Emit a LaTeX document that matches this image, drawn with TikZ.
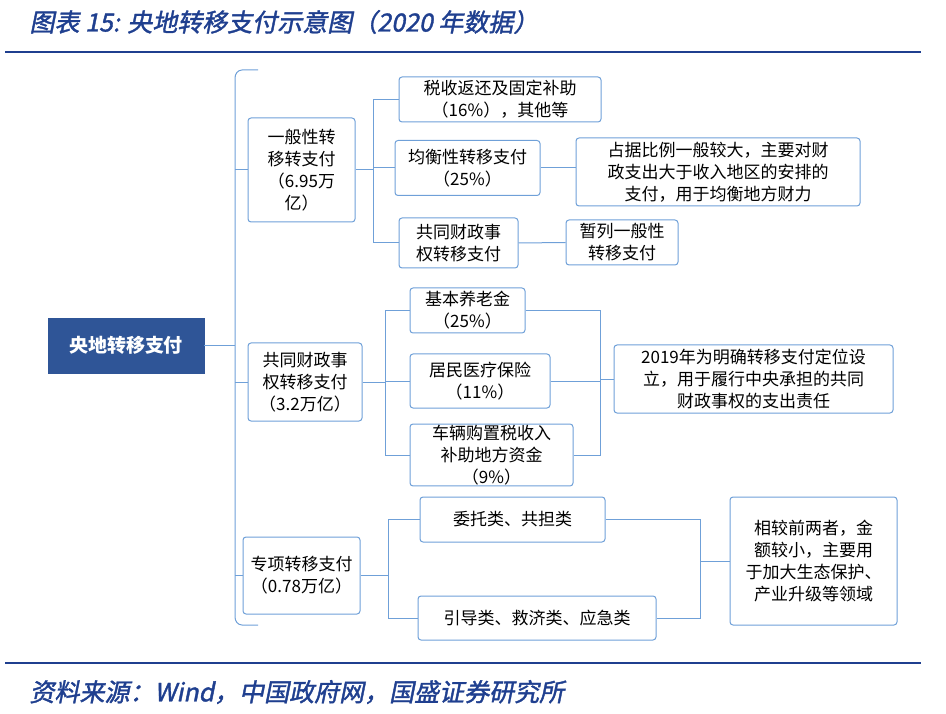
\documentclass[tikz,border=0pt]{standalone}
\usepackage{fontspec}
\setmainfont{Noto Sans CJK SC}
\newfontfamily\titlefont[FakeSlant=0.2,FakeBold=1.5]{Noto Sans CJK SC}
\usetikzlibrary{positioning}
\definecolor{gsblue}{HTML}{1F3F8F}
\definecolor{boxline}{HTML}{6FA0D8}
\definecolor{mainfill}{HTML}{2F5597}
\begin{document}
\begin{tikzpicture}[x=1pt,y=-1pt,
    box/.style={draw=boxline, line width=1pt, rounded corners=3pt, align=center,
      font=\fontsize{17}{22}\selectfont, inner sep=1pt},
    link/.style={draw=boxline, line width=1pt}]

    \useasboundingbox (0,0) rectangle (946,714);
    \node[anchor=west, text=gsblue, font=\titlefont\fontsize{25}{27}\selectfont] (title) at (26,22) {图表 15:  央地转移支付示意图（2020 年数据）};
    \draw[gsblue, line width=2pt] (5,52) -- (921,52);
    \draw[gsblue, line width=2pt] (5,663) -- (921,663);
    \node[anchor=west, text=gsblue, font=\titlefont\fontsize{25}{27}\selectfont] (src) at (26,692) {资料来源：Wind，中国政府网，国盛证券研究所};

    % main box and brace
    \node[draw=mainfill, fill=mainfill, text=white, font=\bfseries\fontsize{19}{22}\selectfont,
      minimum width=156, minimum height=55] (main) at (126,345.5) {央地转移支付};
    \draw[link] (main.east) -- (235,345.5);
    \draw[link] (258,70) -- (242,70) to[out=180,in=90] (235,78) -- (235,617) to[out=-90,in=180] (242,625) -- (258,625);

    % level 1
    \node[box, minimum width=107, minimum height=104] (gen) at (301.5,170) {一般性转\\移转支付\\（6.95万\\亿）};
    \node[box, minimum width=114, minimum height=78] (com) at (305,382) {共同财政事\\权转移支付\\（3.2万亿）};
    \node[box, minimum width=117, minimum height=77] (spe) at (301.5,575.5) {专项转移支付\\（0.78万亿）};
    \draw[link] (235,170) -- (gen.west);
    \draw[link] (235,382) -- (com.west);
    \draw[link] (235,575.5) -- (spe.west);

    % general transfers
    \node[box, minimum width=202, minimum height=45] (tax) at (500,99.5) {税收返还及固定补助\\（16\%），其他等};
    \node[box, minimum width=145, minimum height=55] (bal) at (467.5,168) {均衡性转移支付\\（25\%）};
    \node[box, minimum width=284, minimum height=68] (baltxt) at (718,172) {占据比例一般较大，主要对财\\政支出大于收入地区的安排的\\支付，用于均衡地方财力};
    \node[box, minimum width=119, minimum height=50] (cgen) at (458.5,243) {共同财政事\\权转移支付};
    \node[box, minimum width=112, minimum height=45] (tmp) at (622,242.5) {暂列一般性\\转移支付};
    \draw[link] (gen.east) -- (373,170);
    \draw[link] (tax.west) -| (373,243) -- (cgen.west);
    \draw[link] (373,168) -- (bal.west);
    \draw[link] (bal.east) -- (baltxt.west |- bal.east);
    \draw[link] (cgen.east) -- (tmp.west);

    % shared transfers
    \node[box, minimum width=115, minimum height=45] (pen) at (467.5,310.5) {基本养老金\\（25\%）};
    \node[box, minimum width=140, minimum height=54] (med) at (480,381) {居民医疗保险\\（11\%）};
    \node[box, minimum width=163, minimum height=58] (veh) at (491.5,455) {车辆购置税收入\\补助地方资金\\（9\%）};
    \node[box, minimum width=279, minimum height=68] (comtxt) at (753.5,379) {2019年为明确转移支付定位设\\立，用于履行中央承担的共同\\财政事权的支出责任};
    \draw[link] (com.east) -- (385,382);
    \draw[link] (pen.west) -| (385,455) -- (veh.west);
    \draw[link] (385,381) -- (med.west);
    \draw[link] (pen.east) -| (600,455) -- (veh.east);
    \draw[link] (med.east) -- (600,381);
    \draw[link] (600,379) -- (comtxt.west);

    % special transfers
    \node[box, minimum width=185, minimum height=45] (ent) at (512.5,519.5) {委托类、共担类};
    \node[box, minimum width=238, minimum height=44] (gui) at (537,618) {引导类、救济类、应急类};
    \node[box, minimum width=167, minimum height=128] (spetxt) at (813.5,561) {相较前两者，金\\额较小，主要用\\于加大生态保护、\\产业升级等领域};
    \draw[link] (spe.east) -- (388,575.5);
    \draw[link] (ent.west) -| (388,618) -- (gui.west);
    \draw[link] (ent.east) -| (700,618) -- (gui.east);
    \draw[link] (700,561) -- (spetxt.west);

\end{tikzpicture}
\end{document}
